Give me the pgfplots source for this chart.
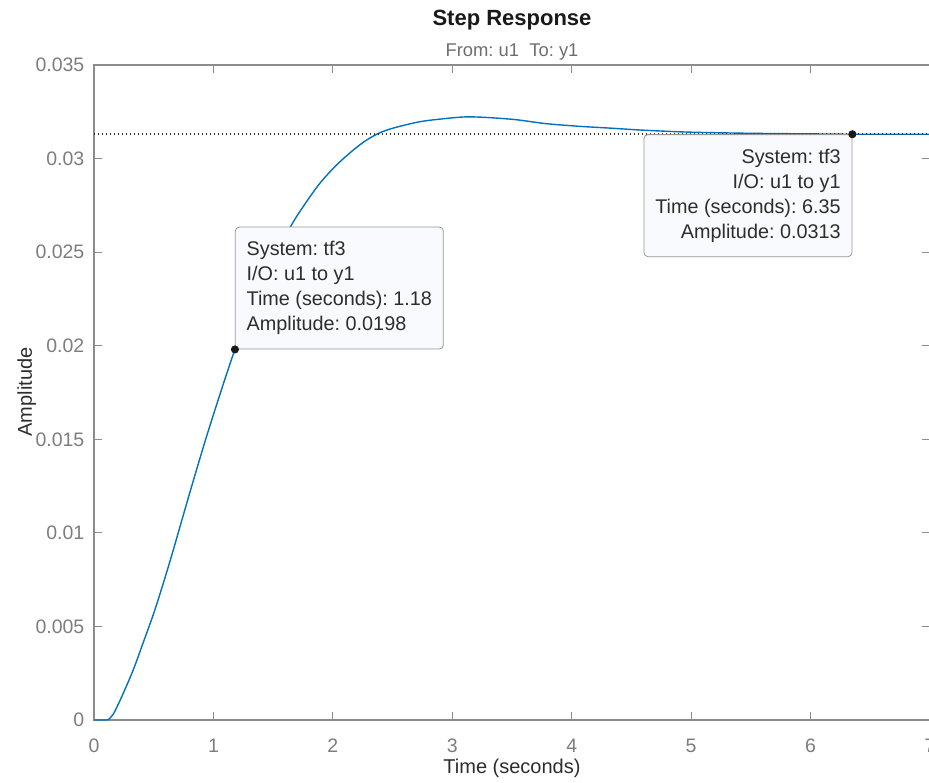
\documentclass[border=0pt]{standalone}
\usepackage{fontspec}
\setmainfont{Liberation Sans}
\usepackage{pgfplots}
\pgfplotsset{compat=1.18}
\definecolor{axgray}{RGB}{140,140,140}
\definecolor{ticktxt}{RGB}{125,125,125}
\definecolor{labtxt}{RGB}{45,45,45}
\definecolor{subtxt}{RGB}{110,110,110}
\definecolor{mblue}{RGB}{0,114,189}
\definecolor{tipfill}{RGB}{249,250,253}
\definecolor{tipdraw}{RGB}{150,150,150}
\frenchspacing

% step response
\pgfplotstableread{
t y
0 0
0.10 0
0.12 0.00002
0.16 0.0003
0.20 0.0008
0.25 0.0015
0.33 0.0027
0.41 0.0041
0.50 0.0057
0.58 0.0073
0.66 0.0090
0.80 0.0121
0.94 0.0151
1.08 0.0179
1.18 0.0198
1.30 0.0219
1.45 0.0240
1.645 0.02635
1.75 0.02742
1.89 0.02867
2.03 0.02965
2.17 0.03045
2.28 0.03098
2.39 0.03137
2.49 0.03160
2.59 0.03177
2.72 0.03196
2.87 0.03209
3.14 0.03223
3.50 0.03210
3.78 0.03187
4.05 0.03173
4.34 0.03162
4.62 0.03151
5.00 0.03141
5.50 0.03135
6.00 0.03132
6.35 0.03130
7.00 0.03130
}\stepdata

\begin{document}
\begin{tikzpicture}
\begin{axis}[
    at={(0,0)}, anchor=south west,
    scale only axis, width=418pt, height=327.5pt,
    xmin=0, xmax=7, ymin=0, ymax=0.035,
    xtick={0,1,2,3,4,5,6,7},
    ytick={0,0.005,0.01,0.015,0.02,0.025,0.03,0.035},
    yticklabels={0,0.005,0.01,0.015,0.02,0.025,0.03,0.035},
    scaled y ticks=false,
    /pgf/number format/assume math mode=true,
    axis line style={axgray, line width=0.6pt},
    tick style={axgray, line width=0.5pt},
    tick align=inside, major tick length=4pt,
    ticklabel style={font=\fontsize{9.75}{11}\selectfont, text=ticktxt},
    xticklabel style={anchor=base, yshift=-16pt},
    yticklabel style={anchor=east, xshift=-1.3pt},
]
\addplot[mblue, line width=0.7pt, smooth, tension=0.5] table[x=t, y=y] {\stepdata};
\addplot[black!80, line width=0.75pt, dash pattern=on 0.6pt off 1.4pt] coordinates {(0,0.0313) (7,0.0313)};

\node[anchor=south west, draw=tipdraw, fill=tipfill, rounded corners=2pt,
      align=left, minimum width=104pt, minimum height=61pt,
      font=\fontsize{9.9}{12.5}\selectfont, text=labtxt]
  at (axis cs:1.18,0.0198) {System: tf3\\I/O: u1 to y1\\Time (seconds): 1.18\\Amplitude: 0.0198};
\node[anchor=north east, draw=tipdraw, fill=tipfill, rounded corners=2pt,
      align=right, minimum width=104pt, minimum height=61pt,
      font=\fontsize{9.9}{12.5}\selectfont, text=labtxt]
  at (axis cs:6.35,0.0313) {System: tf3\\I/O: u1 to y1\\Time (seconds): 6.35\\Amplitude: 0.0313};

\addplot[only marks, mark=*, mark size=1.8pt, black!90] coordinates {(1.18,0.0198) (6.35,0.0313)};
\end{axis}

\node[anchor=base, font=\bfseries\fontsize{11}{13}\selectfont, text=black!90] at (209pt,347pt) {Step Response};
\node[anchor=base, font=\fontsize{9.2}{11}\selectfont, text=subtxt] at (209pt,331.7pt) {From: u1\ \ To: y1};
\node[anchor=base, font=\fontsize{10}{12}\selectfont, text=labtxt] at (209pt,-26.5pt) {Time (seconds)};
\node[anchor=base, rotate=90, font=\fontsize{10}{12}\selectfont, text=labtxt] at (-31pt,164pt) {Amplitude};

\pgfresetboundingbox
\useasboundingbox (-47pt,-31pt) rectangle (417.5pt,360pt);
\end{tikzpicture}
\end{document}
